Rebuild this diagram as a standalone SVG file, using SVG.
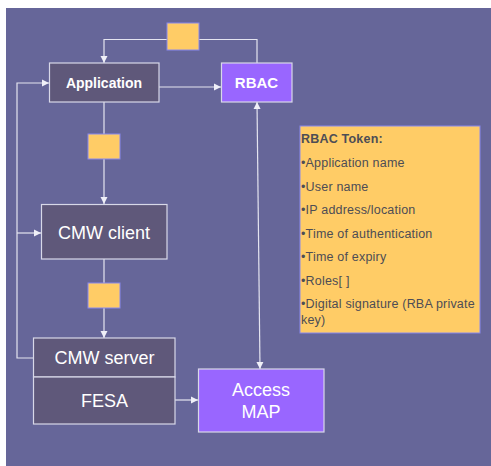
<svg xmlns="http://www.w3.org/2000/svg" width="491" height="466" viewBox="0 0 491 466">
<defs>
<marker id="ah" markerWidth="8" markerHeight="8" refX="7" refY="4" orient="auto" markerUnits="userSpaceOnUse">
<path d="M0,0.5 L7,4 L0,7.5 Z" fill="#f0f0f8"/>
</marker>
<marker id="ahs" markerWidth="8" markerHeight="8" refX="0" refY="4" orient="auto" markerUnits="userSpaceOnUse">
<path d="M7,0.5 L0,4 L7,7.5 Z" fill="#f0f0f8"/>
</marker>
</defs>
<style>
.bg{fill:#666699}
.dark{fill:#5f587a;stroke:#d8d8e8;stroke-width:1.2}
.purple{fill:#9966ff;stroke:#d8d8e8;stroke-width:1.2}
.tok{fill:#ffcc66;stroke:#8888ee;stroke-width:1}
.ln{fill:none;stroke:#e4e4f0;stroke-width:1.2}
.t{font-family:"Liberation Sans",Arial,sans-serif;fill:#ffffff;text-anchor:middle}
.tt{font-family:"Liberation Sans",Arial,sans-serif;fill:#4d4d55;font-size:12.5px;letter-spacing:0.2px}
</style>
<rect class="bg" x="6" y="8" width="485" height="458"/>
<g id="connectors">
<polyline class="ln" points="167,39.5 104,39.5 104,63" marker-end="url(#ah)"/>
<polyline class="ln" points="199,39.5 257,39.5 257,63"/>
<line class="ln" x1="159" y1="87" x2="221" y2="87" marker-end="url(#ah)"/>
<line class="ln" x1="104" y1="102" x2="104" y2="134"/>
<line class="ln" x1="104" y1="159" x2="104" y2="204" marker-end="url(#ah)"/>
<line class="ln" x1="104" y1="259" x2="104" y2="283"/>
<line class="ln" x1="104" y1="308" x2="104" y2="338" marker-end="url(#ah)"/>
<polyline class="ln" points="33,358 17,358 17,83 49,83" marker-end="url(#ah)"/>
<line class="ln" x1="17" y1="233" x2="41" y2="233" marker-end="url(#ah)"/>
<line class="ln" x1="257" y1="102" x2="260" y2="369" marker-start="url(#ahs)" marker-end="url(#ah)"/>
<line class="ln" x1="175" y1="400" x2="198" y2="400" marker-end="url(#ah)"/>
</g>
<g id="token1"><rect class="tok" x="167" y="23" width="32" height="27"/></g>
<g id="token2"><rect class="tok" x="88" y="134" width="32" height="25"/></g>
<g id="token3"><rect class="tok" x="88" y="283" width="32" height="25"/></g>
<g id="application">
<rect class="dark" x="49.5" y="63" width="109.5" height="39"/>
<text class="t" x="104" y="88" font-size="14" font-weight="bold">Application</text>
</g>
<g id="rbac">
<rect class="purple" x="221.5" y="63" width="70.5" height="39"/>
<text class="t" x="256.5" y="88" font-size="15" font-weight="bold">RBAC</text>
</g>
<g id="cmw-client">
<rect class="dark" x="41.5" y="204.5" width="125.5" height="54.5"/>
<text class="t" x="104" y="238.5" font-size="18">CMW client</text>
</g>
<g id="cmw-server">
<rect class="dark" x="33.5" y="338" width="141.5" height="39"/>
<text class="t" x="104.5" y="364" font-size="18">CMW server</text>
</g>
<g id="fesa">
<rect class="dark" x="33.5" y="377" width="141.5" height="47"/>
<text class="t" x="104.5" y="407" font-size="18">FESA</text>
</g>
<g id="access-map">
<rect class="purple" x="198.5" y="369" width="125.5" height="63"/>
<text class="t" x="261" y="396" font-size="18">Access</text>
<text class="t" x="261" y="418" font-size="18">MAP</text>
</g>
<g id="rbac-token">
<rect class="tok" x="300" y="126" width="180" height="207"/>
<text class="tt" x="301" y="143" font-weight="bold" font-size="13" letter-spacing="0.4">RBAC Token:</text>
<text class="tt" x="301" y="167">•Application name</text>
<text class="tt" x="301" y="191">•User name</text>
<text class="tt" x="301" y="214">•IP address/location</text>
<text class="tt" x="301" y="238">•Time of authentication</text>
<text class="tt" x="301" y="261">•Time of expiry</text>
<text class="tt" x="301" y="285">•Roles[ ]</text>
<text class="tt" x="301" y="308">•Digital signature (RBA private</text>
<text class="tt" x="301" y="324">key)</text>
</g>
</svg>
